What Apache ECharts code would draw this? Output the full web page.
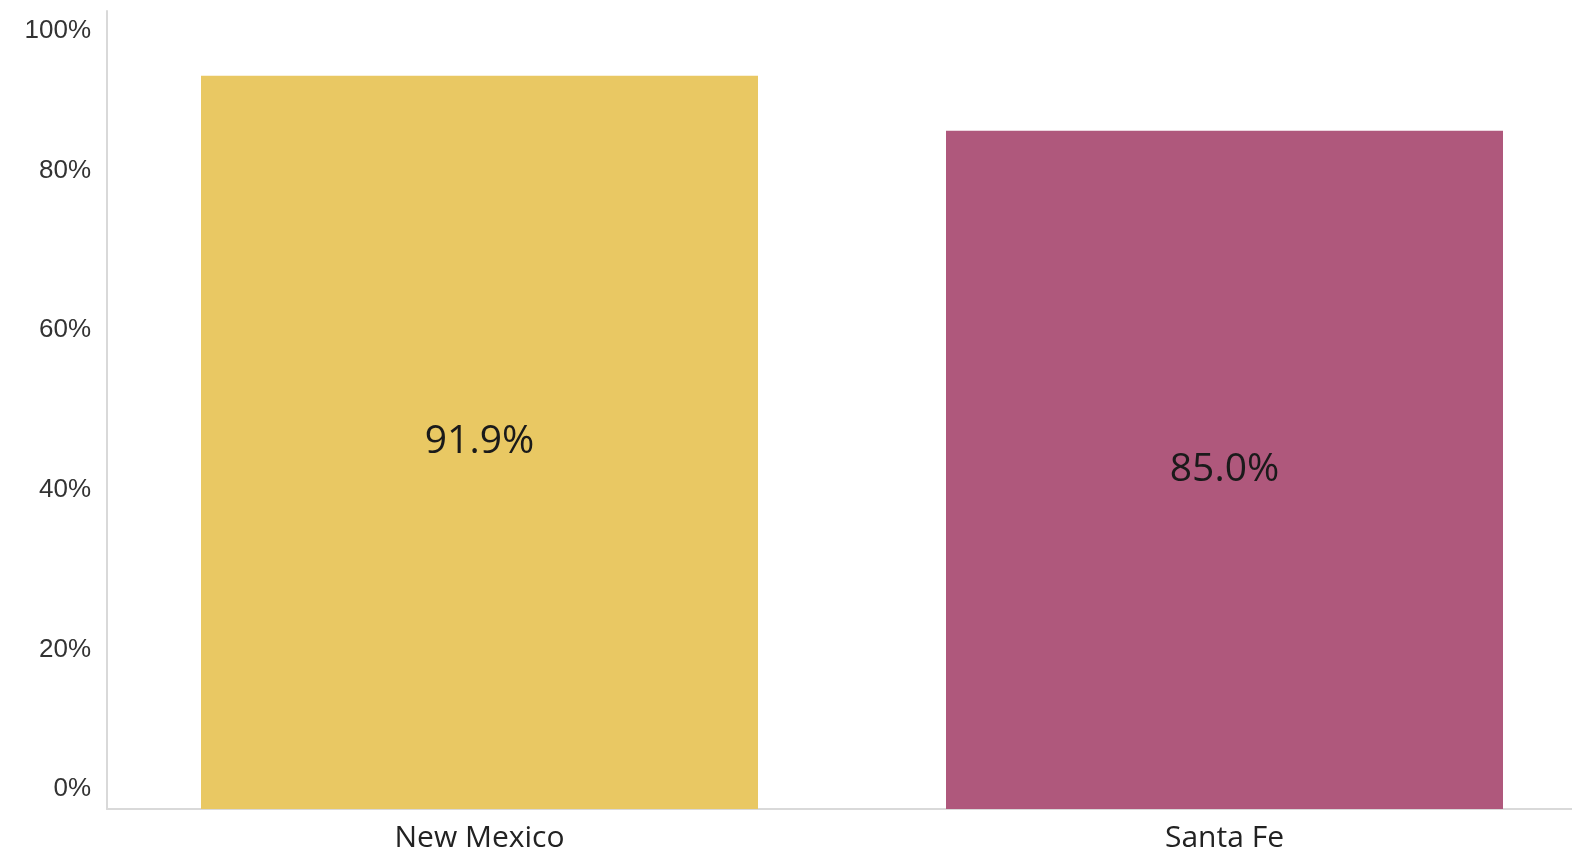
<!DOCTYPE html>
<html>
<head>
<meta charset="utf-8">
<script src="https://cdn.jsdelivr.net/npm/echarts@6/dist/echarts.min.js"></script>
<style>
html,body{margin:0;padding:0;background:#fff;overflow:hidden;}
#chart{width:1640px;height:851px;}
</style>
</head>
<body>
<div id="chart"></div>
<script>
const categories = ['New Mexico', 'Santa Fe'];
const values = [91.9, 85.0];
const barColors = ['#E9C863', '#AF587C'];
const yTicks = [0, 20, 40, 60, 80, 100];

const chart = echarts.init(document.getElementById('chart'));
chart.setOption({
  animation: false,
  backgroundColor: '#ffffff',
  grid: { left: 107, width: 1490, top: 11, bottom: 42, containLabel: false, outerBoundsMode: 'none' },
  xAxis: {
    type: 'category',
    data: categories,
    axisLine: { show: true, lineStyle: { color: '#d9d9d9', width: 2 } },
    axisTick: { show: false },
    axisLabel: { fontFamily: 'Open Sans', fontSize: 30, color: '#222', margin: 14 }
  },
  yAxis: {
    type: 'value',
    min: yTicks[0],
    max: yTicks[yTicks.length - 1],
    interval: 20,
    splitLine: { show: false },
    axisLine: { show: true, lineStyle: { color: '#d9d9d9', width: 2 } },
    axisTick: { show: false },
    axisLabel: {
      fontFamily: 'Liberation Sans', fontSize: 26, color: '#333', margin: 16,
      formatter: function (v) {
        if (v === 100) return '{t|' + v + '%}';
        if (v === 0) return '{b|' + v + '%}';
        return v + '%';
      },
      rich: {
        t: { fontFamily: 'Liberation Sans', fontSize: 26, color: '#333', padding: [40, 0, 0, 0] },
        b: { fontFamily: 'Liberation Sans', fontSize: 26, color: '#333', padding: [0, 0, 40, 0] }
      }
    }
  },
  series: [{
    type: 'bar',
    barWidth: 557,
    data: values.map((v, i) => ({ value: v, itemStyle: { color: barColors[i] } })),
    label: {
      show: true,
      position: 'inside',
      fontFamily: 'Open Sans',
      fontSize: 39,
      color: '#1a1a1a',
      formatter: p => p.value.toFixed(1) + '%'
    }
  }]
});
</script>
</body>
</html>
